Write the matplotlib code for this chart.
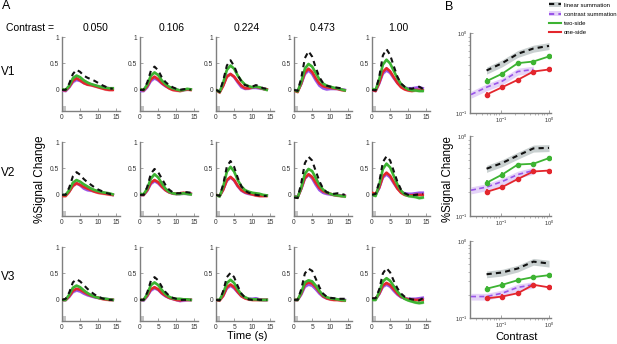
import matplotlib
matplotlib.use("Agg")
import matplotlib.pyplot as plt
import numpy as np
from matplotlib.lines import Line2D
from matplotlib.patches import Patch
from matplotlib.ticker import NullFormatter

plt.rcParams['font.family'] = ['Liberation Sans', 'DejaVu Sans']

# ---------------- data ----------------
time_s = list(range(15))
contrast_labels = ["0.050", "0.106", "0.224", "0.473", "1.00"]
areas = ["V1", "V2", "V3"]

# time courses (% signal change), rows = contrasts
v1_linear = [
    [0, 0.0, 0.12, 0.30, 0.38, 0.34, 0.27, 0.23, 0.20, 0.17, 0.13, 0.09, 0.06, 0.03, 0.02],
    [0.0, 0.0, 0.14, 0.36, 0.44, 0.37, 0.24, 0.15, 0.09, 0.05, 0.02, 0.0, 0.01, 0.02, 0.0],
    [0.0, -0.04, 0.18, 0.46, 0.56, 0.45, 0.28, 0.16, 0.09, 0.07, 0.06, 0.09, 0.07, 0.03, 0.02],
    [0.0, -0.02, 0.22, 0.60, 0.73, 0.63, 0.42, 0.24, 0.13, 0.08, 0.06, 0.05, 0.04, 0.03, 0.02],
    [0.0, -0.01, 0.25, 0.65, 0.77, 0.66, 0.45, 0.25, 0.12, 0.06, 0.03, 0.02, 0.04, 0.06, 0.02]]
v1_two = [
    [0.01, 0.0, 0.08, 0.22, 0.27, 0.24, 0.18, 0.14, 0.11, 0.09, 0.07, 0.05, 0.04, 0.03, 0.03],
    [0.01, 0.0, 0.10, 0.27, 0.33, 0.28, 0.18, 0.11, 0.06, 0.03, 0.01, -0.01, 0.0, 0.02, 0.01],
    [0.0, -0.04, 0.14, 0.38, 0.46, 0.40, 0.27, 0.17, 0.10, 0.07, 0.05, 0.06, 0.05, 0.02, 0.0],
    [0.0, -0.03, 0.15, 0.40, 0.49, 0.44, 0.32, 0.20, 0.12, 0.08, 0.06, 0.04, 0.03, 0.01, -0.01],
    [0.02, 0.0, 0.20, 0.48, 0.57, 0.50, 0.36, 0.22, 0.11, 0.05, 0.01, -0.01, -0.01, -0.02, -0.02]]
v1_one = [
    [0.0, -0.01, 0.06, 0.17, 0.22, 0.18, 0.13, 0.10, 0.09, 0.07, 0.05, 0.03, 0.01, 0.0, 0.0],
    [0.01, -0.01, 0.07, 0.20, 0.25, 0.20, 0.13, 0.08, 0.03, 0.0, -0.01, -0.02, 0.0, 0.01, 0.0],
    [0.0, -0.05, 0.08, 0.25, 0.30, 0.25, 0.16, 0.08, 0.03, 0.03, 0.05, 0.06, 0.04, 0.02, 0.01],
    [-0.01, -0.04, 0.12, 0.33, 0.40, 0.34, 0.22, 0.12, 0.07, 0.05, 0.04, 0.03, 0.02, 0.0, -0.01],
    [0.0, -0.02, 0.14, 0.34, 0.41, 0.35, 0.24, 0.13, 0.05, 0.01, -0.01, -0.02, 0.0, 0.0, -0.01]]
v1_contrast = [
    [-0.01, -0.02, 0.05, 0.15, 0.19, 0.17, 0.13, 0.11, 0.10, 0.08, 0.06, 0.05, 0.04, 0.03, 0.03],
    [-0.02, -0.02, 0.05, 0.17, 0.22, 0.18, 0.12, 0.07, 0.04, 0.01, 0.0, -0.01, 0.0, 0.01, 0.01],
    [0.0, -0.03, 0.09, 0.26, 0.30, 0.24, 0.14, 0.05, 0.02, 0.03, 0.04, 0.04, 0.03, 0.02, 0.01],
    [0.0, -0.02, 0.11, 0.30, 0.37, 0.30, 0.18, 0.08, 0.03, 0.01, 0.02, 0.02, 0.02, 0.01, 0.0],
    [0.0, -0.02, 0.12, 0.31, 0.37, 0.32, 0.22, 0.13, 0.07, 0.04, 0.03, 0.03, 0.04, 0.05, 0.03]]

v2_linear = [
    [0.0, 0.0, 0.14, 0.35, 0.43, 0.38, 0.30, 0.24, 0.19, 0.14, 0.10, 0.07, 0.04, 0.02, 0.0],
    [0.0, 0.0, 0.15, 0.40, 0.49, 0.43, 0.31, 0.19, 0.10, 0.05, 0.03, 0.03, 0.05, 0.05, 0.04],
    [0.0, -0.02, 0.20, 0.54, 0.64, 0.53, 0.32, 0.16, 0.08, 0.04, 0.02, 0.0, -0.01, -0.02, -0.02],
    [-0.05, -0.06, 0.22, 0.60, 0.72, 0.65, 0.45, 0.26, 0.12, 0.05, 0.03, 0.02, 0.03, 0.02, 0.0],
    [0.0, 0.02, 0.24, 0.62, 0.73, 0.65, 0.45, 0.25, 0.10, 0.03, 0.0, -0.01, 0.0, 0.01, 0.02]]
v2_two = [
    [0.0, 0.0, 0.09, 0.23, 0.28, 0.25, 0.20, 0.16, 0.12, 0.09, 0.07, 0.05, 0.04, 0.03, 0.01],
    [0.02, 0.01, 0.12, 0.31, 0.39, 0.33, 0.22, 0.12, 0.06, 0.03, 0.02, 0.02, 0.03, 0.02, 0.01],
    [0.0, -0.03, 0.16, 0.44, 0.53, 0.44, 0.28, 0.16, 0.09, 0.06, 0.04, 0.03, 0.02, 0.0, -0.01],
    [-0.03, -0.05, 0.14, 0.40, 0.49, 0.45, 0.32, 0.19, 0.10, 0.05, 0.02, 0.0, -0.01, -0.02, -0.03],
    [0.0, -0.02, 0.19, 0.49, 0.59, 0.52, 0.36, 0.20, 0.08, 0.01, -0.02, -0.03, -0.04, -0.06, -0.05]]
v2_one = [
    [-0.02, -0.02, 0.06, 0.17, 0.22, 0.19, 0.15, 0.12, 0.09, 0.06, 0.04, 0.03, 0.02, 0.01, 0.0],
    [0.0, 0.0, 0.09, 0.23, 0.28, 0.24, 0.16, 0.09, 0.05, 0.03, 0.02, 0.03, 0.04, 0.03, 0.02],
    [0.0, -0.02, 0.10, 0.28, 0.34, 0.28, 0.17, 0.09, 0.05, 0.03, 0.01, -0.01, -0.02, -0.02, -0.02],
    [-0.03, -0.05, 0.12, 0.32, 0.39, 0.34, 0.23, 0.13, 0.07, 0.04, 0.02, 0.0, -0.01, -0.02, -0.02],
    [0.04, 0.02, 0.14, 0.35, 0.42, 0.36, 0.24, 0.12, 0.04, 0.0, -0.01, -0.01, 0.0, 0.0, 0.0]]
v2_contrast = [
    [0.0, 0.0, 0.07, 0.18, 0.22, 0.18, 0.12, 0.09, 0.08, 0.07, 0.06, 0.05, 0.03, 0.02, 0.0],
    [0.0, 0.0, 0.08, 0.21, 0.26, 0.22, 0.15, 0.09, 0.05, 0.03, 0.02, 0.02, 0.03, 0.02, 0.02],
    [0.0, -0.02, 0.10, 0.27, 0.33, 0.27, 0.16, 0.08, 0.04, 0.02, 0.01, 0.0, -0.01, -0.01, -0.01],
    [-0.02, -0.04, 0.11, 0.31, 0.38, 0.31, 0.19, 0.09, 0.04, 0.02, 0.01, 0.0, 0.0, -0.01, -0.01],
    [0.0, 0.0, 0.13, 0.33, 0.39, 0.33, 0.22, 0.12, 0.06, 0.03, 0.02, 0.02, 0.03, 0.04, 0.04]]

v3_linear = [
    [0.0, 0.02, 0.14, 0.33, 0.39, 0.35, 0.28, 0.21, 0.15, 0.10, 0.06, 0.03, 0.01, 0.0, 0.0],
    [0.0, 0.0, 0.14, 0.36, 0.43, 0.37, 0.25, 0.15, 0.08, 0.04, 0.02, 0.0, 0.0, 0.0, 0.0],
    [0.0, -0.01, 0.17, 0.43, 0.51, 0.43, 0.26, 0.12, 0.04, 0.01, 0.0, 0.01, 0.0, 0.0, 0.0],
    [0.0, 0.0, 0.20, 0.50, 0.59, 0.55, 0.40, 0.24, 0.12, 0.06, 0.04, 0.03, 0.02, 0.02, 0.02],
    [0.03, 0.03, 0.20, 0.50, 0.60, 0.52, 0.36, 0.22, 0.12, 0.06, 0.03, 0.01, 0.0, -0.01, 0.03]]
v3_two = [
    [0.0, 0.0, 0.10, 0.23, 0.27, 0.24, 0.18, 0.13, 0.09, 0.06, 0.04, 0.03, 0.02, 0.01, 0.0],
    [0.0, 0.0, 0.11, 0.28, 0.33, 0.28, 0.19, 0.11, 0.06, 0.03, 0.02, 0.02, 0.01, 0.01, 0.0],
    [0.0, 0.0, 0.13, 0.32, 0.38, 0.32, 0.20, 0.10, 0.05, 0.02, 0.01, 0.01, 0.0, 0.0, 0.0],
    [0.0, 0.0, 0.14, 0.33, 0.37, 0.35, 0.27, 0.17, 0.09, 0.05, 0.03, 0.02, 0.01, 0.0, -0.01],
    [0.0, 0.0, 0.15, 0.35, 0.41, 0.36, 0.26, 0.16, 0.08, 0.02, -0.01, -0.03, -0.05, -0.06, -0.05]]
v3_one = [
    [0.0, 0.0, 0.07, 0.17, 0.21, 0.19, 0.15, 0.11, 0.08, 0.06, 0.04, 0.02, 0.01, 0.0, 0.0],
    [0.0, 0.0, 0.08, 0.20, 0.24, 0.20, 0.13, 0.08, 0.04, 0.02, 0.0, -0.01, 0.0, 0.0, 0.0],
    [0.0, -0.01, 0.08, 0.24, 0.29, 0.24, 0.15, 0.07, 0.03, 0.01, 0.0, 0.0, 0.0, 0.0, 0.0],
    [0.0, 0.0, 0.12, 0.29, 0.33, 0.31, 0.24, 0.15, 0.07, 0.03, 0.01, 0.0, 0.0, -0.01, -0.01],
    [0.02, 0.02, 0.12, 0.27, 0.32, 0.28, 0.20, 0.12, 0.06, 0.03, 0.01, 0.0, 0.0, 0.0, 0.0]]
v3_contrast = [
    [0.0, 0.0, 0.06, 0.15, 0.18, 0.16, 0.12, 0.09, 0.07, 0.05, 0.04, 0.03, 0.02, 0.01, 0.0],
    [0.0, -0.01, 0.07, 0.18, 0.22, 0.19, 0.12, 0.07, 0.04, 0.02, 0.0, -0.02, -0.01, 0.0, 0.0],
    [0.0, 0.0, 0.08, 0.22, 0.27, 0.22, 0.14, 0.07, 0.04, 0.02, 0.02, 0.03, 0.01, 0.0, 0.0],
    [0.0, 0.0, 0.10, 0.25, 0.29, 0.27, 0.20, 0.12, 0.06, 0.03, 0.02, 0.02, 0.01, 0.01, 0.0],
    [0.02, 0.02, 0.11, 0.25, 0.29, 0.25, 0.17, 0.10, 0.05, 0.03, 0.02, 0.02, 0.02, 0.03, 0.04]]

# panel B: peak amplitude vs contrast
contrasts = [0.05, 0.106, 0.224, 0.473, 1.0]
contrast_sum_x = [0.0237, 0.05, 0.106, 0.224, 0.473]
b_linear = [[0.34, 0.42, 0.55, 0.64, 0.69],
            [0.39, 0.46, 0.57, 0.70, 0.71],
            [0.37, 0.39, 0.44, 0.54, 0.51]]
b_two = [[0.25, 0.31, 0.42, 0.44, 0.51],
         [0.26, 0.33, 0.44, 0.45, 0.53],
         [0.24, 0.27, 0.31, 0.34, 0.36]]
b_one = [[0.17, 0.21, 0.26, 0.33, 0.35],
         [0.20, 0.23, 0.29, 0.36, 0.37],
         [0.18, 0.19, 0.21, 0.27, 0.25]]
b_contrast = [[0.17, 0.21, 0.25, 0.33, 0.35],
              [0.21, 0.23, 0.27, 0.33, 0.37],
              [0.19, 0.19, 0.21, 0.25, 0.27]]
b_two_err = [0.02, 0.02, 0.02, 0.02, 0.02]
b_one_err = [0.015, 0.015, 0.015, 0.015, 0.015]

# ---------------- style ----------------
GREEN = '#3db332'
RED = '#e3262d'
PURPLE = '#9a55e8'
BLACK = '#111111'
GRAYBAND = '#c9d0d0'
PURPBAND = '#e5d3f8'
SPINE = '#7f7f7f'

W, H = 617, 344
fig = plt.figure(figsize=(W / 100, H / 100), dpi=100)


def px_axes(l, t, w, h):
    return fig.add_axes([l / W, 1 - (t + h) / H, w / W, h / H])


def style_axes(ax):
    for s in ['top', 'right']:
        ax.spines[s].set_visible(False)
    for s in ['left', 'bottom']:
        ax.spines[s].set_color(SPINE)
        ax.spines[s].set_linewidth(1.0)
    ax.tick_params(direction='in', length=2, width=0.5, colors=SPINE,
                   labelsize=4.8, labelcolor='#333333', pad=2)


tc = {"V1": (v1_linear, v1_two, v1_one, v1_contrast),
      "V2": (v2_linear, v2_two, v2_one, v2_contrast),
      "V3": (v3_linear, v3_two, v3_one, v3_contrast)}

col_left = [62, 140, 216, 294, 372]
row_top = [37, 142, 247]
t = np.array(time_s)
for r, area in enumerate(areas):
    lin, two, one, con = tc[area]
    for c in range(5):
        ax = px_axes(col_left[c], row_top[r], 58, 74)
        style_axes(ax)
        ax.set_xlim(0, 16)
        ax.set_ylim(-0.4, 1.0)
        ax.set_xticks([0, 5, 10, 15])
        ax.set_yticks([0, 0.5, 1])
        ax.set_yticklabels(['0', '0.5', '1'])
        ax.add_patch(plt.Rectangle((0, -0.4), 1.0, 0.09, color='#c4c4c4', lw=0, zorder=1))
        for data, col in ((con, PURPLE), (one, RED), (two, GREEN)):
            y = np.array(data[c])
            ax.fill_between(t, y - 0.025, y + 0.025, color=col, alpha=0.3, lw=0, zorder=2)
            ax.plot(t, y, color=col, lw=1.9, zorder=3)
        ax.plot(t, lin[c], color=BLACK, lw=1.5, dashes=(2.5, 2.0), zorder=4)

# panel B
b_top = [33, 136, 241]
b_h = [80, 80, 77]
for r in range(3):
    ax = px_axes(470, b_top[r], 81, b_h[r])
    style_axes(ax)
    ax.set_xscale('log')
    ax.set_yscale('log')
    ax.set_xlim(0.0226, 1.1)
    ax.set_ylim(0.1, 1.0)
    ax.tick_params(which='minor', length=1.2, width=0.4, colors=SPINE)
    ax.tick_params(labelsize=4)
    ax.set_xticks([0.1, 1.0])
    ax.set_yticks([0.1, 1.0])
    ax.xaxis.set_minor_formatter(NullFormatter())
    ax.yaxis.set_minor_formatter(NullFormatter())
    lin = np.array(b_linear[r])
    ax.fill_between(contrasts, lin * 0.9, lin * 1.1, color=GRAYBAND, lw=0, zorder=1)
    ax.plot(contrasts, lin, color=BLACK, lw=1.5, dashes=(2.5, 2.0), zorder=4)
    con = np.array(b_contrast[r])
    ax.fill_between(contrast_sum_x, con * 0.9, con * 1.1, color=PURPBAND, lw=0, zorder=1)
    ax.plot(contrast_sum_x, con, color=PURPLE, lw=1.2, dashes=(3, 2.0), zorder=3)
    ax.errorbar(contrasts, b_two[r], yerr=b_two_err, color=GREEN, lw=1.3,
                marker='o', ms=3, capsize=0, elinewidth=1.2, zorder=5)
    ax.errorbar(contrasts, b_one[r], yerr=b_one_err, color=RED, lw=1.3,
                marker='o', ms=3, capsize=0, elinewidth=1.2, zorder=5)

# legend
handles = [(Patch(color=GRAYBAND, lw=0), Line2D([], [], color=BLACK, lw=1.5, dashes=(2.5, 2))),
           (Patch(color=PURPBAND, lw=0), Line2D([], [], color=PURPLE, lw=1.5, dashes=(2.5, 2))),
           Line2D([], [], color=GREEN, lw=1.5),
           Line2D([], [], color=RED, lw=1.5)]
labels = ['linear summation', 'contrast summation', 'two-side', 'one-side']
fig.legend(handles, labels, loc='upper left', bbox_to_anchor=(548 / W, 1 - 1 / H),
           frameon=False, fontsize=4.3, handlelength=2.0, handleheight=0.9,
           handletextpad=0.4, labelspacing=0.6, borderaxespad=0, borderpad=0.2)

# texts
fig.text(2 / W, 1 - 6 / H, 'A', fontsize=9, va='center', ha='left')
fig.text(445 / W, 1 - 7 / H, 'B', fontsize=9, va='center', ha='left')
fig.text(6 / W, 1 - 28 / H, 'Contrast =', fontsize=7.5, va='center', ha='left')
title_x = [96, 172, 247, 323, 398]
for x, lab in zip(title_x, contrast_labels):
    fig.text(x / W, 1 - 28 / H, lab, fontsize=7.5, va='center', ha='center')
for y, lab in zip([72, 173, 277], areas):
    fig.text(1 / W, 1 - y / H, lab, fontsize=8.5, va='center', ha='left')
fig.text(40 / W, 1 - 179 / H, '%Signal Change', fontsize=8.5, rotation=90, va='center', ha='center')
fig.text(448 / W, 1 - 179 / H, '%Signal Change', fontsize=8.3, rotation=90, va='center', ha='center')
fig.text(247 / W, 1 - 336 / H, 'Time (s)', fontsize=8, va='center', ha='center')
fig.text(517 / W, 1 - 337 / H, 'Contrast', fontsize=8, va='center', ha='center')

fig.savefig('out.png', dpi=100)
